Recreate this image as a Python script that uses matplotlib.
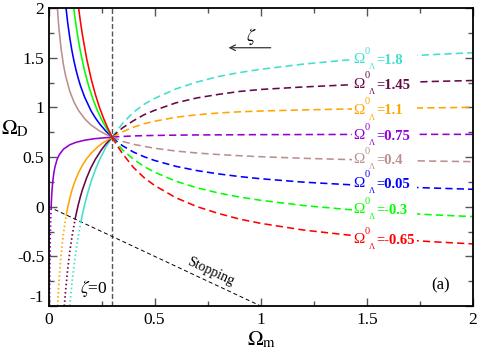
import matplotlib
matplotlib.use('Agg')
import matplotlib.pyplot as plt
from matplotlib.patches import Rectangle

plt.rcParams['font.family'] = ['Liberation Serif', 'DejaVu Serif']
plt.rcParams['mathtext.fontset'] = 'stix'
plt.rcParams['lines.scale_dashes'] = False

# ---------------- data ----------------
OMEGA_L0 = ['1.8', '1.45', '1.1', '0.75', '0.4', '0.05', '-0.3', '-0.65']
COLORS = ['#40E0D0', '#670748', '#FFA500', '#9400D3', '#BC8F8F', '#0000FF', '#00FF00', '#FF0000']

# dashed branch (Omega_m >= 0.3), common x grid
XD = [0.3, 0.32, 0.35, 0.4, 0.45, 0.5, 0.6, 0.7, 0.8, 0.9, 1.0, 1.2, 1.4, 1.6, 1.8, 2.0]
cyan_d   = [0.70, 0.757, 0.84, 0.95, 1.03, 1.09, 1.185, 1.255, 1.31, 1.35, 1.383, 1.435, 1.475, 1.505, 1.53, 1.55]
maroon_d = [0.70, 0.74, 0.795, 0.865, 0.925, 0.97, 1.045, 1.095, 1.13, 1.16, 1.18, 1.205, 1.225, 1.245, 1.26, 1.27]
orange_d = [0.70, 0.72, 0.755, 0.80, 0.835, 0.86, 0.90, 0.925, 0.943, 0.955, 0.963, 0.974, 0.983, 0.99, 0.995, 1.0]
purple_d = [0.70, 0.703, 0.707, 0.712, 0.715, 0.717, 0.72, 0.722, 0.723, 0.724, 0.725, 0.726, 0.727, 0.727, 0.728, 0.728]
brown_d  = [0.70, 0.685, 0.656, 0.628, 0.607, 0.588, 0.56, 0.54, 0.525, 0.513, 0.503, 0.487, 0.475, 0.466, 0.459, 0.453]
blue_d   = [0.70, 0.66, 0.612, 0.55, 0.503, 0.465, 0.406, 0.363, 0.33, 0.303, 0.281, 0.247, 0.223, 0.203, 0.188, 0.175]
green_d  = [0.70, 0.64, 0.57, 0.478, 0.405, 0.347, 0.256, 0.19, 0.138, 0.097, 0.064, 0.012, -0.027, -0.057, -0.081, -0.10]
red_d    = [0.70, 0.625, 0.53, 0.395, 0.293, 0.213, 0.09, 0.0, -0.068, -0.125, -0.168, -0.235, -0.283, -0.322, -0.352, -0.375]

# solid branch (Omega_m <= 0.3)
cyan_sx   = [0.1527, 0.16, 0.17, 0.18, 0.2, 0.22, 0.24, 0.27, 0.3]
cyan_sy   = [-0.153, -0.077, 0.017, 0.102, 0.248, 0.368, 0.47, 0.597, 0.70]
maroon_sx = [0.1255, 0.13, 0.14, 0.15, 0.16, 0.18, 0.2, 0.22, 0.25, 0.27, 0.3]
maroon_sy = [-0.123, -0.077, 0.017, 0.099, 0.171, 0.292, 0.392, 0.474, 0.574, 0.63, 0.70]
orange_sx = [0.0835, 0.09, 0.1, 0.11, 0.12, 0.14, 0.16, 0.18, 0.2, 0.23, 0.26, 0.3]
orange_sy = [-0.086, -0.013, 0.082, 0.162, 0.228, 0.336, 0.418, 0.483, 0.536, 0.599, 0.648, 0.70]
purple_sx = [0.0125, 0.0135, 0.015, 0.0175, 0.02, 0.025, 0.03, 0.04, 0.05, 0.07, 0.1, 0.13, 0.17, 0.22, 0.3]
purple_sy = [-0.0125, 0.052, 0.112, 0.19, 0.25, 0.337, 0.396, 0.473, 0.521, 0.578, 0.623, 0.648, 0.669, 0.685, 0.70]
brown_sx  = [0.035, 0.04, 0.045, 0.05, 0.06, 0.07, 0.08, 0.1, 0.12, 0.14, 0.17, 0.2, 0.24, 0.27, 0.3]
brown_sy  = [2.263, 2.063, 1.905, 1.776, 1.578, 1.434, 1.323, 1.163, 1.054, 0.973, 0.886, 0.823, 0.763, 0.728, 0.70]
blue_sx   = [0.075, 0.08, 0.09, 0.1, 0.11, 0.12, 0.13, 0.14, 0.15, 0.17, 0.2, 0.22, 0.24, 0.27, 0.3]
blue_sy   = [2.162, 2.049, 1.859, 1.704, 1.575, 1.466, 1.373, 1.292, 1.221, 1.104, 0.967, 0.896, 0.836, 0.761, 0.70]
green_sx  = [0.11, 0.115, 0.12, 0.13, 0.14, 0.15, 0.17, 0.19, 0.21, 0.23, 0.25, 0.27, 0.3]
green_sy  = [2.167, 2.07, 1.981, 1.822, 1.686, 1.566, 1.367, 1.209, 1.079, 0.970, 0.878, 0.80, 0.70]
red_sx    = [0.135, 0.14, 0.15, 0.16, 0.18, 0.2, 0.22, 0.24, 0.26, 0.28, 0.3]
red_sy    = [2.12, 2.03, 1.869, 1.727, 1.488, 1.295, 1.135, 1.0, 0.886, 0.787, 0.70]

# dotted branch (beyond the stopping line)
cyan_tx   = [0.1, 0.11, 0.12, 0.13, 0.14, 0.1527]
cyan_ty   = [-0.998, -0.781, -0.597, -0.44, -0.302, -0.153]
maroon_tx = [0.0745, 0.08, 0.09, 0.1, 0.11, 0.1255]
maroon_ty = [-1.0, -0.857, -0.637, -0.458, -0.31, -0.123]
orange_tx = [0.0427, 0.045, 0.05, 0.055, 0.06, 0.07, 0.0835]
orange_ty = [-1.0, -0.906, -0.734, -0.592, -0.471, -0.278, -0.086]
purple_tx = [0.0046, 0.005, 0.006, 0.008, 0.01, 0.0125]
purple_ty = [-1.0, -0.87, -0.64, -0.34, -0.15, -0.0125]

# stopping line
STOP_X = [0.0, 1.0]
STOP_Y = [0.0, -1.0]

X_TICKS = [0, 0.5, 1, 1.5, 2]
X_TICKLABELS = ['0', '0.5', '1', '1.5', '2']
Y_TICKS = [-1, -0.5, 0, 0.5, 1, 1.5, 2]
Y_TICKLABELS = ['', '-0.5', '0', '0.5', '1', '1.5', '2']

# ---------------- plotting ----------------
fig = plt.figure(figsize=(4.79, 3.53), dpi=100)
ax = fig.add_axes([48.5 / 479, 1 - 306 / 353, (473 - 48.5) / 479, (306 - 8) / 353])

DASH = (0, (5.2, 3.0))
DOT = (0, (1.1, 1.9))
LW = 1.15

series = [
    (cyan_sx, cyan_sy, cyan_d, cyan_tx, cyan_ty),
    (maroon_sx, maroon_sy, maroon_d, maroon_tx, maroon_ty),
    (orange_sx, orange_sy, orange_d, orange_tx, orange_ty),
    (purple_sx, purple_sy, purple_d, purple_tx, purple_ty),
    (brown_sx, brown_sy, brown_d, None, None),
    (blue_sx, blue_sy, blue_d, None, None),
    (green_sx, green_sy, green_d, None, None),
    (red_sx, red_sy, red_d, None, None),
]

for (sx, sy, dy, tx, ty), c in zip(series, COLORS):
    ax.plot(sx, sy, color=c, lw=LW, zorder=2)
    ax.plot(XD, dy, color=c, lw=LW, linestyle=DASH, zorder=2)
    if tx is not None:
        ax.plot(tx, ty, color=c, lw=LW + 0.1, linestyle=DOT, zorder=2)

ax.axvline(0.3, color='#555555', lw=1.0, linestyle=(0, (3.6, 1.8)), zorder=1)
ax.plot(STOP_X, STOP_Y, color='black', lw=0.7, linestyle=(0, (2.9, 2.0)), zorder=1)

# inline labels: Omega with stacked 0 / Lambda, then "=value" in bold
label_y = [1.477, 1.232, 0.973, 0.715, 0.47, 0.235, -0.033, -0.335]
LX = 1.434
for lab, c, ly in zip(OMEGA_L0, COLORS, label_y):
    ax.add_patch(Rectangle((1.428, ly - 0.09), 0.31, 0.18, facecolor='white',
                           edgecolor='none', zorder=3))
    ax.annotate('\u03a9', xy=(LX, ly), xytext=(0, 0), textcoords='offset points',
                color=c, fontsize=11, ha='left', va='center', zorder=4)
    ax.annotate('0', xy=(LX, ly), xytext=(8.3, 6.2), textcoords='offset points',
                color=c, fontsize=7.5, ha='left', va='center', zorder=4)
    ax.annotate('\u039b', xy=(LX, ly), xytext=(11.6, -5.4), textcoords='offset points',
                color=c, fontsize=6, ha='left', va='center', zorder=4)
    ax.annotate('=' + lab, xy=(LX, ly), xytext=(16.6, -0.6), textcoords='offset points',
                color=c, fontsize=10.5, fontweight='bold', ha='left', va='center', zorder=4)

ax.text(0.765, -0.655, 'Stopping', rotation=-25, rotation_mode='anchor',
        ha='center', va='center', fontsize=10)
ax.text(0.277, -0.82, r'$\zeta$=0', ha='right', va='center', fontsize=12.5)
ax.text(0.957, 1.71, r'$\zeta$', ha='center', va='center', fontsize=13)
ax.annotate('', xy=(0.835, 1.6), xytext=(1.06, 1.6),
            arrowprops=dict(arrowstyle='->', color='#333333', lw=0.9))
ax.text(1.849, -0.79, '(a)', ha='center', va='center', fontsize=12)

ax.set_xlim(0, 2)
ax.set_ylim(-1, 2)
ax.set_xticks(X_TICKS)
ax.set_xticklabels(X_TICKLABELS)
ax.set_yticks(Y_TICKS)
ax.set_yticklabels(Y_TICKLABELS)
ax.set_xticks([0.25, 0.75, 1.25, 1.75], minor=True)
ax.set_yticks([-0.75, -0.25, 0.25, 0.75, 1.25, 1.75], minor=True)
ax.tick_params(which='both', direction='in', top=True, right=True,
               color='#555555', width=1.0, labelsize=12.5)
ax.tick_params(which='major', length=6)
ax.tick_params(which='minor', length=3.5)
ax.tick_params(axis='x', pad=4)
ax.tick_params(axis='y', pad=3)
for s in ax.spines.values():
    s.set_linewidth(1.3)
    s.set_color('black')

# the -1 label sits slightly above its tick in the reference
ax.annotate('-1', xy=(0, -1), xycoords=ax.get_yaxis_transform(),
            xytext=(-3.5, 5.6), textcoords='offset points',
            ha='right', va='center', fontsize=12.5)

fig.text(15 / 479, 1 - 129 / 353, r'$\Omega_{\rm D}$', fontsize=15,
         ha='center', va='center')
fig.text(262 / 479, 1 - 340 / 353, r'$\Omega_{\rm m}$', fontsize=15,
         ha='center', va='center')

fig.savefig('out.png', dpi=100)
